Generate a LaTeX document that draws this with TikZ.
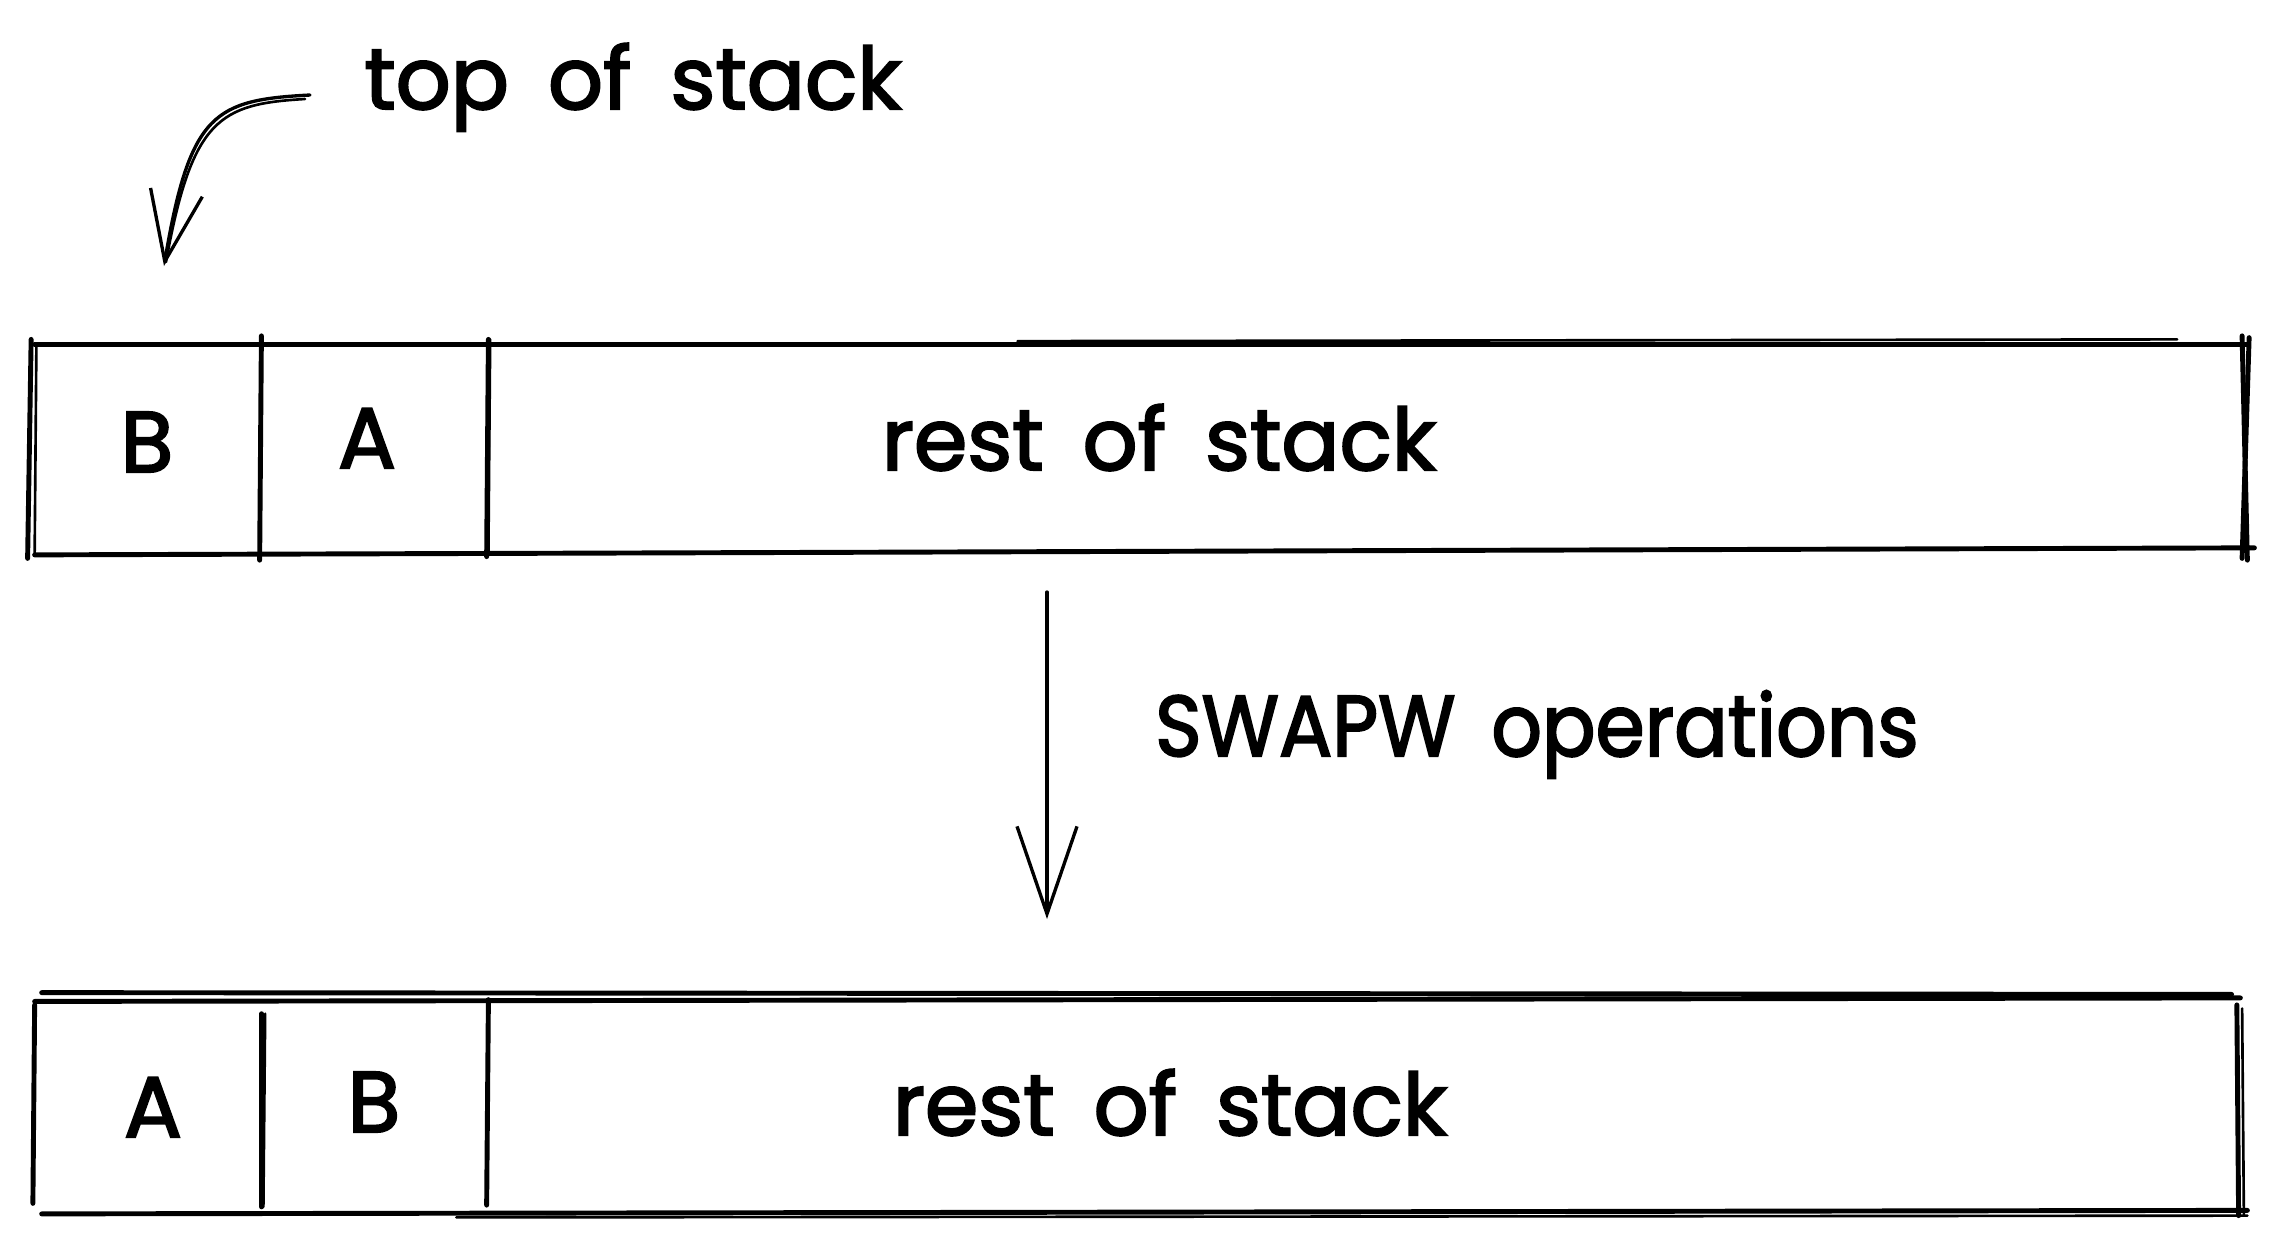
\documentclass[tikz,border=0pt]{standalone}
\usepackage{fontspec}
\setmainfont{Poppins}
\newfontfamily\handfont{Poppins}[FakeBold=2.4, WordSpace=1.7]
\usetikzlibrary{arrows.meta,fit}
\begin{document}
\begin{tikzpicture}[x=0.02cm,y=-0.02cm,
  pen/.style={line width=2.8pt, line cap=round, line join=round},
  penthin/.style={line width=1.5pt, line cap=round},
  cell/.style={inner sep=0pt, draw=none},
  lbl/.style={anchor=base, inner sep=0pt, font=\handfont\fontsize{49}{53}\selectfont},
  bigarrow/.style={line width=1.9pt, line cap=round,
    -{Straight Barb[length=1.75cm, width=1.2cm, line width=1.9pt]}},
  smallarrow/.style={line width=1.9pt, line cap=round,
    -{Straight Barb[length=1.4cm, width=1.05cm, line width=1.9pt]}}]

\useasboundingbox (0,0) rectangle (2281,1249);

% ---------- upper stack ----------
\node[cell, fit={(35,345) (260,551)}] (tB) {};
\node[cell, fit={(260,345) (487,551)}] (tA) {};
\node[cell, fit={(487,345) (2247,551)}] (tR) {};

\draw[pen] (tB.north west) -- (tR.north east);
\draw[pen] ([yshift=-2pt]tB.south west) -- ([yshift=2pt,xshift=4pt]tR.south east);
\draw[pen] ([xshift=-2pt,yshift=3pt]tB.north west) -- ([xshift=-4pt,yshift=-4pt]tB.south west);
\draw[penthin] ([xshift=1pt]tB.north west) -- ([xshift=0pt,yshift=-2pt]tB.south west);
\draw[pen] ([xshift=1pt,yshift=5pt]tA.north west) -- ([yshift=-5pt]tA.south west);
\draw[pen] ([xshift=1pt,yshift=3pt]tR.north west) -- ([yshift=-3pt]tR.south west);
\draw[penthin] ([xshift=2pt,yshift=3pt]tR.north west) -- ([xshift=1pt,yshift=-2pt]tR.south west);
\draw[pen] ([xshift=-3pt,yshift=5pt]tR.north east) -- ([xshift=0pt,yshift=-5pt]tR.south east);
\draw[pen] ([xshift=1pt,yshift=4pt]tR.north east) -- ([xshift=-3pt,yshift=-4pt]tR.south east);
\draw[penthin] ([xshift=-40pt,yshift=3pt]tR.north east) -- ([xshift=-700pt,yshift=2pt]tR.north east);

\node[lbl] (tBl) at (147,472) {B};
\node[lbl] (tAl) at (367,468) {A};
\node[lbl] (tRl) at (1159,470) {rest of stack};

% ---------- top-of-stack pointer ----------
\node[lbl] (tos) at (633,109) {top of stack};
\coordinate (tosS) at (310,95);
\coordinate (tosT) at (164,266);
\draw[smallarrow] (tosS) .. controls (215,100) and (190,112) .. (tosT);
\draw[penthin] (305,99) .. controls (220,104) and (192,118) .. (166,262);

% ---------- transformation arrow ----------
\coordinate (opS) at (1047,592);
\coordinate (opT) at (1047,919);
\draw[bigarrow] (opS) -- (opT);
\node[lbl] (op) at (1537,756) {\scalebox{0.92}[1]{SWAPW operations}};

% ---------- lower stack ----------
\node[cell, fit={(35,1000) (262,1210)}] (bA) {};
\node[cell, fit={(262,1000) (487,1210)}] (bB) {};
\node[cell, fit={(487,1000) (2240,1210)}] (bR) {};

\draw[pen] ([yshift=-1pt]bA.north west) -- ([yshift=1pt]bR.north east);
\draw[pen] ([xshift=4pt,yshift=4pt]bA.north west) -- ([xshift=-5pt,yshift=3pt]bR.north east);
\draw[pen] ([xshift=4pt,yshift=-2pt]bA.south west) -- ([xshift=4pt]bR.south east);
\draw[penthin] ([xshift=240pt,yshift=-4pt]bA.south west) -- ([xshift=4pt,yshift=-3pt]bR.south east);
\draw[pen] ([yshift=-3pt]bA.north west) -- ([xshift=-1pt,yshift=4pt]bA.south west);
\draw[pen] ([yshift=-8pt]bB.north west) -- ([yshift=2pt]bB.south west);
\draw[penthin] ([xshift=2pt,yshift=-8pt]bB.north west) -- ([xshift=1pt,yshift=2pt]bB.south west);
\draw[pen] ([xshift=1pt]bR.north west) -- ([yshift=3pt]bR.south west);
\draw[pen] ([xshift=-2pt,yshift=-3pt]bR.north east) -- ([xshift=-1pt,yshift=-3pt]bR.south east);
\draw[penthin] ([xshift=1pt,yshift=-5pt]bR.north east) -- ([xshift=2pt,yshift=-3pt]bR.south east);

\node[lbl] (bAl) at (153,1137) {A};
\node[lbl] (bBl) at (374,1132) {B};
\node[lbl] (bRl) at (1170,1135) {rest of stack};

\end{tikzpicture}
\end{document}
